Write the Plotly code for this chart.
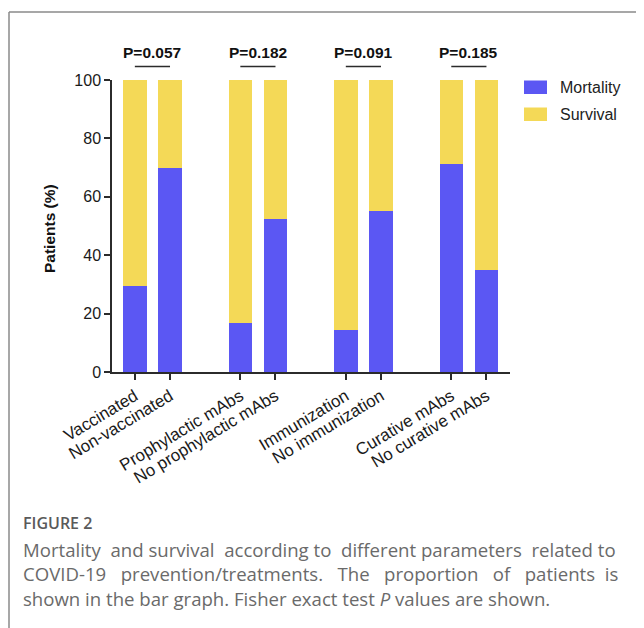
import plotly.graph_objects as go

# ---------------- data ----------------
groups = ["Vaccination", "Prophylactic mAbs", "Immunization", "Curative mAbs"]
categories = ["Vaccinated", "Non-vaccinated",
              "Prophylactic mAbs", "No prophylactic mAbs",
              "Immunization", "No immunization",
              "Curative mAbs", "No curative mAbs"]
mortality = [29.4, 70.0, 16.7, 52.4, 14.3, 55.0, 71.4, 35.0]
survival = [100 - m for m in mortality]
p_values = ["P=0.057", "P=0.182", "P=0.091", "P=0.185"]
y_ticks = [0, 20, 40, 60, 80, 100]

# ---------------- layout helpers ----------------
OFF = 8  # page body margin
W, H = 644 - OFF, 628 - OFF
ML, MT = 104, 72
PW, PH = 398, 292
MR, MB = W - ML - PW, H - MT - PH


def px(x):
    """reference-image x pixel -> paper coordinate"""
    return (x - OFF - ML) / PW


def py(y):
    """reference-image y pixel -> paper coordinate"""
    return (MT + PH - (y - OFF)) / PH


# categorical positions with a gap between groups
xpos = [3 * (i // 2) + (i % 2) for i in range(len(categories))]

BLUE = "#5B57F3"
YELLOW = "#F4D957"
AX = "#2b2b2b"
ARIAL = "Liberation Sans, Arial, sans-serif"

fig = go.Figure()
fig.add_trace(go.Bar(x=xpos, y=mortality, name="Mortality", marker_color=BLUE,
                     marker_line_width=0, width=0.67, showlegend=False))
fig.add_trace(go.Bar(x=xpos, y=survival, name="Survival", marker_color=YELLOW,
                     marker_line_width=0, width=0.67, showlegend=False))

shapes = []
annotations = []

# P-value brackets
for g, p in enumerate(p_values):
    a, b = xpos[2 * g], xpos[2 * g + 1]
    shapes.append(dict(type="line", xref="x", yref="paper", x0=a, x1=b, y0=py(66.5), y1=py(66.5),
                       line=dict(color=AX, width=1.5)))
    annotations.append(dict(x=(a + b) / 2, y=py(53), xref="x", yref="paper", text=f"<b>{p}</b>",
                            showarrow=False, xanchor="center", yanchor="middle",
                            font=dict(family=ARIAL, size=15.5, color="#111")))

# manual legend
for k, (name, col) in enumerate([("Mortality", BLUE), ("Survival", YELLOW)]):
    y0 = 80.5 + 27 * k
    shapes.append(dict(type="rect", xref="paper", yref="paper", x0=px(524), x1=px(547),
                       y0=py(y0 + 13.5), y1=py(y0), fillcolor=col, line=dict(width=0)))
    annotations.append(dict(x=px(558), y=py(y0 + 6.5), xref="paper", yref="paper", text=name,
                            xanchor="left", yanchor="middle", showarrow=False,
                            font=dict(family=ARIAL, size=16, color="#222")))

# y-axis title
annotations.append(dict(x=px(50), y=py(229), xref="paper", yref="paper", text="<b>Patients (%)</b>",
                        textangle=-90, showarrow=False, xanchor="center", yanchor="middle",
                        font=dict(family=ARIAL, size=15.5, color="#111")))

# page frame
shapes.append(dict(type="line", xref="paper", yref="paper", x0=px(9), x1=px(9), y0=py(12), y1=py(640),
                   line=dict(color="#8a8a8a", width=1.5)))
shapes.append(dict(type="line", xref="paper", yref="paper", x0=px(9), x1=px(660), y0=py(12), y1=py(12),
                   line=dict(color="#8a8a8a", width=1.5)))

# caption
cap_font = "Open Sans, Noto Sans, sans-serif"
annotations.append(dict(x=px(21), y=py(523), xref="paper", yref="paper", text="FIGURE 2",
                        xanchor="left", yanchor="middle", showarrow=False,
                        font=dict(family=cap_font, size=16, color="#5a5a5a", weight=600)))
nb = "\u00a0"
cap_lines = [
    ("Mortality" + nb + " and survival" + nb + " according to" + nb + " different parameters"
     + nb + " related to"),
    ("COVID-19" + nb * 2 + " prevention/treatments." + nb * 2 + " The" + nb * 2 + " proportion"
     + nb * 2 + " of" + nb * 2 + " patients" + nb + " is"),
    "shown in the bar graph. Fisher exact test <i>P</i> values are shown.",
]
for i, line in enumerate(cap_lines):
    annotations.append(dict(x=px(21), y=py(549 + 24.5 * i), xref="paper", yref="paper", text=line,
                            xanchor="left", yanchor="middle", showarrow=False,
                            font=dict(family=cap_font, size=18.6, color="#6a6a6a")))

fig.update_layout(
    width=W, height=H,
    margin=dict(l=ML, r=MR, t=MT, b=MB, autoexpand=False),
    barmode="stack", bargap=0,
    plot_bgcolor="white", paper_bgcolor="white",
    shapes=shapes, annotations=annotations,
    font=dict(family=ARIAL, size=15, color="#222"),
)
fig.update_xaxes(range=[-0.65, 10.67], tickvals=xpos, ticktext=categories, tickangle=-31,
                 showline=True, linecolor=AX, linewidth=1.5, ticks="outside", ticklen=6,
                 tickwidth=1.5, tickcolor=AX, showgrid=False, zeroline=False,
                 tickfont=dict(family=ARIAL, size=17, color="#1a1a1a"))
fig.update_yaxes(range=[0, 100], tickvals=y_ticks, showline=True, linecolor=AX, linewidth=1.5,
                 ticks="outside", ticklen=6, tickwidth=1.5, tickcolor=AX, showgrid=False,
                 zeroline=False, tickfont=dict(family=ARIAL, size=16, color="#1a1a1a"))

fig.write_html("out.html")
